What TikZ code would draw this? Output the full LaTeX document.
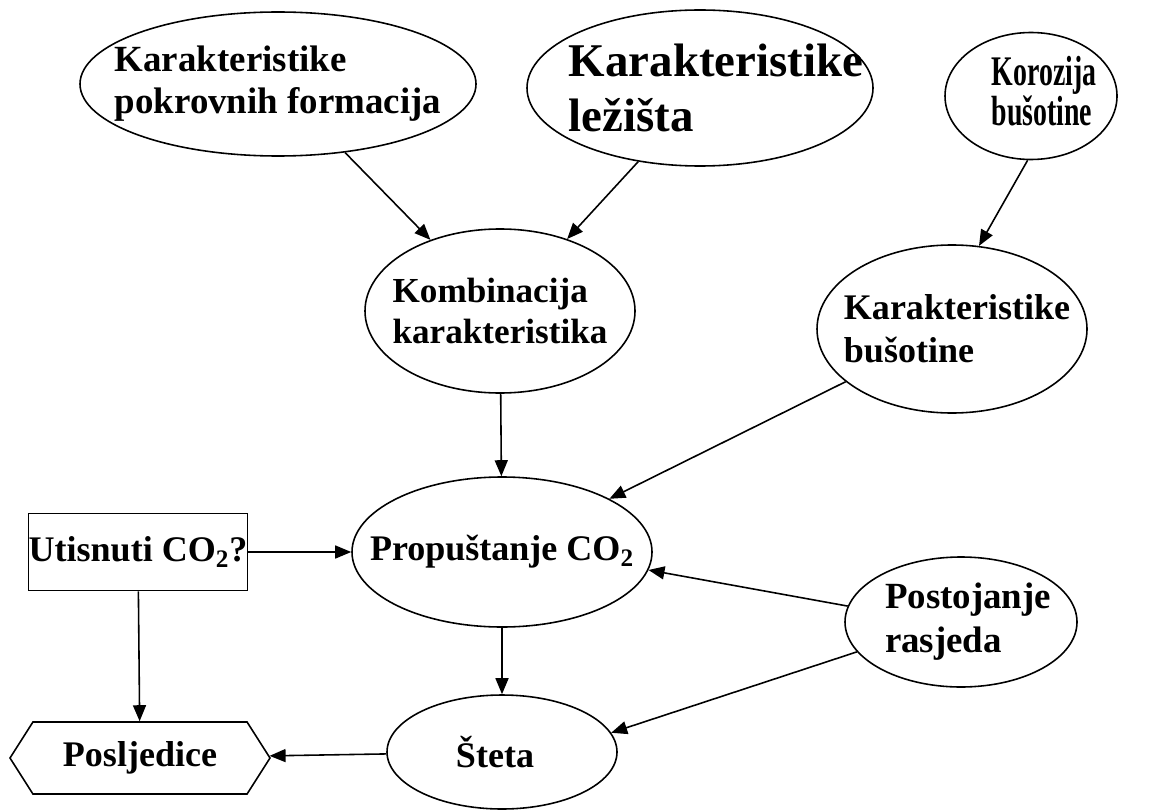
\documentclass[tikz,border=0pt]{standalone}
\usepackage{fontspec}
\setmainfont{Liberation Serif}
\usetikzlibrary{arrows.meta, shapes.geometric, shapes.symbols}

\begin{document}
\begin{tikzpicture}[x=0.2mm, y=-0.2mm, line width=0.9pt,
  blob/.style={ellipse, draw, inner sep=0pt},
  lbl/.style={align=left, inner sep=0pt},
  every node/.style={font=\bfseries\fontsize{20.5}{24.5}\selectfont},
  >={Triangle[length=3.2mm, width=2.6mm]}]
  \useasboundingbox (0,0) rectangle (1161,811);

  % Nodes
  \node[blob, minimum width=79.2mm, minimum height=28.8mm,
    label={[lbl, font=\bfseries\fontsize{21}{24}\selectfont]center:{Karakteristike\\pokrovnih formacija}}] (pokr) at (278,84) {};
  \node[blob, minimum width=69.2mm, minimum height=31.2mm,
    label={[lbl, xshift=3.2mm, font=\bfseries\fontsize{26.7}{31}\selectfont]center:{Karakteristike\\ležišta}}] (lez) at (700,88) {};
  \node[blob, minimum width=34.4mm, minimum height=25.4mm,
    label={[lbl, xshift=2.6mm, font=\bfseries\fontsize{24}{20}\selectfont]center:{\scalebox{0.66}[1]{\begin{tabular}{@{}l@{}}Korozija\\bušotine\end{tabular}}}}] (koroz) at (1031,96) {};
  \node[blob, minimum width=54mm, minimum height=32.8mm,
    label={[lbl, font=\bfseries\fontsize{20}{23}\selectfont]center:{Kombinacija\\karakteristika}}] (komb) at (500,311) {};
  \node[blob, minimum width=54mm, minimum height=33.6mm,
    label={[lbl, xshift=1mm]center:{Karakteristike\\bušotine}}] (kbus) at (952,329) {};
  \node[blob, minimum width=60mm, minimum height=30mm,
    label={[lbl]center:{Propuštanje CO\textsubscript{2}}}] (prop) at (502,552) {};
  \node[blob, minimum width=46.4mm, minimum height=26mm,
    label={[lbl, xshift=1.4mm, font=\bfseries\fontsize{21}{25}\selectfont]center:{Postojanje\\rasjeda}}] (rasj) at (961,622) {};
  \node[blob, minimum width=46mm, minimum height=22.8mm,
    label={[lbl, xshift=-1.4mm]center:{Šteta}}] (steta) at (502,752) {};
  \node[draw, rectangle, minimum width=43.2mm, minimum height=15.4mm, inner sep=0pt] (utis) at (138,552) {Utisnuti CO\textsubscript{2}?};
  \node[draw, signal, signal to=west and east, signal pointer angle=115,
    minimum width=52mm, minimum height=14.4mm, inner sep=0pt] (posl) at (140,758) {Posljedice};

  % Upper arrows
  \draw[->] (pokr) -- (komb);
  \draw[->] (lez.230) -- (komb.47);
  \draw[->] (koroz.267) -- (kbus.72);

  % Into leakage
  \draw[->] (komb) -- (prop);
  \draw[->] (kbus) -- (prop);
  \draw[->] (utis) -- (prop);
  \draw[->] (rasj.172) -- (prop.-7);

  % Damage and consequences
  \draw[->] (prop) -- (steta);
  \draw[->] (rasj.196) -- (steta.10);
  \draw[->] (steta) -- (posl);
  \draw[->] (utis) -- (posl);
\end{tikzpicture}
\end{document}
